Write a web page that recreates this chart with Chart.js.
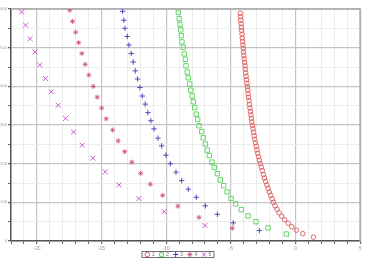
<!DOCTYPE html>
<html>
<head>
<meta charset="utf-8">
<script src="https://cdn.jsdelivr.net/npm/chart.js@4.4.1/dist/chart.umd.min.js"></script>
<style>
    html, body { margin: 0; padding: 0; background: #fff; }
</style>
</head>
<body>
<canvas id="myChart" width="365" height="265"></canvas>
<script>
// series labels
const seriesNames = ['1', '2', '3', '4', '5'];

// series 1 (red circles)
const s1x = [1.39, 0.57, 0.07, -0.29, -0.56, -0.84, -1.06, -1.27, -1.42, -1.58, -1.70, -1.80, -1.91,
    -2.02, -2.12, -2.21, -2.31, -2.40, -2.48, -2.56, -2.64, -2.72, -2.79, -2.86, -2.92, -2.98, -3.03,
    -3.09, -3.14, -3.19, -3.24, -3.28, -3.33, -3.37, -3.41, -3.44, -3.48, -3.52, -3.56, -3.59, -3.63,
    -3.66, -3.69, -3.72, -3.75, -3.78, -3.82, -3.85, -3.88, -3.90, -3.93, -3.96, -3.99, -4.01, -4.03,
    -4.06, -4.09, -4.11, -4.13, -4.16, -4.18, -4.20, -4.23, -4.25, -4.27];
const s1y = [10, 19, 28, 37, 46, 55, 64, 73, 82, 91, 100, 109, 118, 127, 136, 145, 154, 163, 172, 182,
    191, 200, 209, 218, 227, 236, 245, 254, 263, 272, 281, 290, 299, 308, 317, 326, 335, 344, 353, 363,
    372, 381, 390, 399, 408, 417, 426, 435, 444, 453, 462, 471, 480, 489, 498, 507, 516, 525, 535, 544,
    553, 562, 571, 580, 589];

// series 2 (green squares)
const s2x = [-9.06, -8.99, -8.93, -8.88, -8.83, -8.78, -8.68, -8.60, -8.52, -8.47, -8.37, -8.29, -8.18,
    -8.10, -7.98, -7.90, -7.79, -7.67, -7.56, -7.46, -7.25, -7.13, -6.97, -6.82, -6.66, -6.45, -6.28,
    -6.04, -5.81, -5.55, -5.29, -4.98, -4.62, -4.19, -3.67, -3.05, -2.12, -0.70];
const s2y = [591, 575, 560, 546, 531, 515, 501, 484, 470, 453, 437, 422, 406, 390, 375, 360, 345, 328,
    315, 298, 283, 267, 251, 235, 221, 204, 190, 174, 158, 143, 127, 110, 96, 81, 65, 50, 34, 18];

// series 3 (blue plus)
const s3x = [-13.37, -13.27, -13.19, -13.01, -12.88, -12.70, -12.55, -12.39, -12.21, -12.03, -11.85,
    -11.62, -11.41, -11.18, -10.94, -10.63, -10.35, -10.02, -9.68, -9.24, -8.80, -8.29, -7.67, -6.97,
    -6.04, -4.81, -2.79];
const s3y = [594, 571, 550, 529, 507, 485, 463, 440, 419, 397, 375, 354, 332, 311, 290, 266, 246, 222,
    200, 178, 156, 134, 113, 91, 69, 47, 27];

// series 4 (pink stars)
const s4x = [-17.45, -17.24, -17.00, -16.77, -16.52, -16.26, -15.98, -15.64, -15.33, -14.99, -14.64,
    -14.14, -13.71, -13.21, -12.65, -11.97, -11.23, -10.27, -9.09, -7.46, -4.88];
const s4y = [597, 568, 540, 513, 485, 457, 429, 400, 372, 344, 316, 287, 259, 231, 204, 175, 147, 118,
    90, 61, 33];

// series 5 (magenta x)
const s5x = [-21.18, -20.87, -20.52, -20.15, -19.77, -19.33, -18.89, -18.35, -17.78, -17.16, -16.50,
    -15.67, -14.71, -13.65, -12.11, -10.15, -7.00];
const s5y = [592, 558, 523, 489, 455, 420, 386, 351, 317, 282, 248, 214, 179, 145, 110, 76, 40];

// axis ranges / ticks
const xMin = -22, xMax = 5, xMajor = 5;
const yMin = 0, yMax = 600, yMajor = 100, yMinor = 50;

function pairs(xs, ys) {
    return xs.map((x, i) => ({ x: x, y: ys[i] }));
}

const FONT = 'Liberation Sans';

const data = {
    datasets: [{
        label: seriesNames[0],
        data: pairs(s1x, s1y),
        pointStyle: 'circle',
        pointRadius: 2.3,
        borderColor: '#e05a5a',
        backgroundColor: 'rgba(0,0,0,0)',
        borderWidth: 0.9
    }, {
        label: seriesNames[1],
        data: pairs(s2x, s2y),
        pointStyle: 'rect',
        pointRadius: 3.1,
        borderColor: '#58d058',
        backgroundColor: 'rgba(0,0,0,0)',
        borderWidth: 0.9
    }, {
        label: seriesNames[2],
        data: pairs(s3x, s3y),
        pointStyle: 'cross',
        pointRadius: 2.7,
        borderColor: '#3a3ac0',
        backgroundColor: 'rgba(0,0,0,0)',
        borderWidth: 0.9
    }, {
        label: seriesNames[3],
        data: pairs(s4x, s4y),
        pointStyle: 'star',
        pointRadius: 2.5,
        borderColor: '#d0587a',
        backgroundColor: 'rgba(0,0,0,0)',
        borderWidth: 0.9
    }, {
        label: seriesNames[4],
        data: pairs(s5x, s5y),
        pointStyle: 'crossRot',
        pointRadius: 3.5,
        borderColor: '#cc48cc',
        backgroundColor: 'rgba(0,0,0,0)',
        borderWidth: 0.9
    }]
};

// frame on top/right + boxed legend under the plot
const framePlugin = {
    id: 'frame',
    beforeDatasetsDraw(chart) {
        const a = chart.chartArea;
        const ctx = chart.ctx;
        ctx.save();
        ctx.strokeStyle = '#a8a8a8';
        ctx.lineWidth = 1.5;
        ctx.beginPath();
        ctx.moveTo(a.left, a.top);
        ctx.lineTo(a.right, a.top);
        ctx.lineTo(a.right, a.bottom);
        ctx.stroke();
        ctx.restore();
    },
    afterDraw(chart) {
        const ctx = chart.ctx;
        const boxL = 142, boxR = 214, boxT = 251.5, boxB = 257.5;
        const cy = (boxT + boxB) / 2;
        ctx.save();
        ctx.strokeStyle = '#707070';
        ctx.lineWidth = 1;
        ctx.strokeRect(boxL, boxT, boxR - boxL, boxB - boxT);
        ctx.font = '5px ' + FONT;
        ctx.textBaseline = 'middle';
        chart.data.datasets.forEach((ds, i) => {
            const px = 147.3 + i * 14.2;
            ctx.strokeStyle = ds.borderColor;
            ctx.fillStyle = 'rgba(0,0,0,0)';
            ctx.lineWidth = 1;
            Chart.helpers.drawPoint(ctx, {
                pointStyle: ds.pointStyle,
                radius: Math.min(ds.pointRadius, 2.6),
                rotation: 0,
                borderWidth: 1
            }, px, cy);
            ctx.fillStyle = '#777';
            ctx.fillText(ds.label, px + 4.5, cy + 0.3);
        });
        ctx.restore();
    }
};

const config = {
    type: 'scatter',
    data,
    options: {
        responsive: false,
        devicePixelRatio: 1,
        animation: false,
        layout: { padding: { top: 9, right: 4, bottom: 14, left: 0 } },
        plugins: {
            legend: { display: false },
            tooltip: { enabled: false }
        },
        scales: {
            x: {
                type: 'linear',
                min: xMin,
                max: xMax,
                afterFit: scale => { scale.height = 10; },
                ticks: {
                    stepSize: 1,
                    autoSkip: false,
                    maxRotation: 0,
                    padding: 2,
                    color: '#9a9a9a',
                    font: { family: FONT, size: 5 },
                    callback: v => (Math.round(v) % xMajor === 0 ? String(Math.round(v)) : '')
                },
                grid: {
                    color: c => (Math.round(c.tick.value) % xMajor === 0 ? '#c4c4c4' : '#ececec'),
                    lineWidth: c => (Math.round(c.tick.value) % xMajor === 0 ? 1.2 : 1),
                    tickColor: '#666',
                    tickLength: 3
                },
                border: { color: '#555', width: 1.5 }
            },
            y: {
                type: 'linear',
                min: yMin,
                max: yMax,
                afterFit: scale => { scale.width = 11; },
                ticks: {
                    stepSize: yMinor,
                    autoSkip: false,
                    padding: 1,
                    color: '#9a9a9a',
                    font: { family: FONT, size: 4 },
                    callback: v => (Math.round(v) % yMajor === 0 ? String(Math.round(v)) : '')
                },
                grid: {
                    color: c => (Math.round(c.tick.value) % yMajor === 0 ? '#c4c4c4' : '#ececec'),
                    lineWidth: c => (Math.round(c.tick.value) % yMajor === 0 ? 1.2 : 1),
                    tickColor: '#666',
                    tickLength: 3
                },
                border: { color: '#555', width: 1.5 }
            }
        }
    },
    plugins: [framePlugin]
};

// render init block
const myChart = new Chart(document.getElementById('myChart'), config);
</script>
</body>
</html>
